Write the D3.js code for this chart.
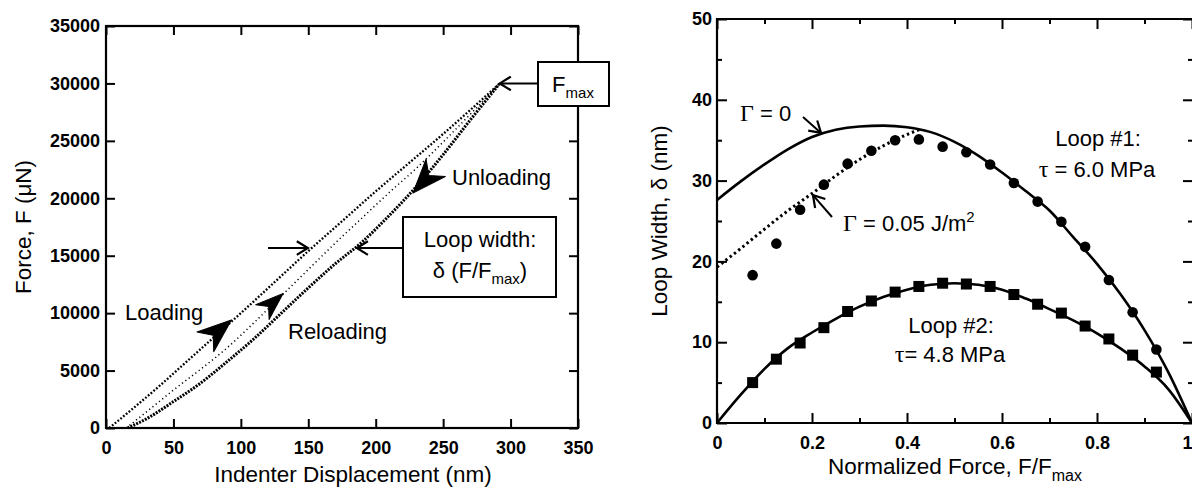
<!DOCTYPE html>
<html>
<head>
<meta charset="utf-8">
<script src="https://cdn.jsdelivr.net/npm/d3@7/dist/d3.min.js"></script>
<style>
body { margin: 0; background: #fff; }
svg { display: block; font-family: "Liberation Sans", Arial, Helvetica, sans-serif; }
.tick text { font-weight: bold; font-size: 18px; fill: #000; }
.tick line { stroke: #000; stroke-width: 2; }
.domain { display: none; }
.ann { font-size: 22px; fill: #000; }
.greek { font-family: "Liberation Serif", "Times New Roman", serif; }
</style>
</head>
<body>
<svg id="chart" width="1192" height="488"></svg>
<script>
// ---- left panel data: force vs indenter displacement ----
var loadDisp   = [2.4, 20, 40, 60, 80, 100, 125, 150, 175, 200, 225, 250, 275, 292];
var loadForce  = [0, 1700, 3700, 5800, 7900, 10000, 12700, 15400, 18000, 20600, 23100, 25600, 28200, 30000];

var reloadDisp  = [15, 30, 50, 70, 90, 110, 130, 150, 170, 190, 210, 230, 250, 270, 292];
var reloadForce = [0, 1400, 3300, 5100, 7000, 9200, 11500, 13800, 16100, 18300, 20500, 22600, 24900, 27300, 30000];

var unloadDisp  = [16, 30, 50, 70, 90, 110, 130, 150, 170, 190, 210, 230, 250, 270, 292];
var unloadForce = [0, 800, 2300, 3900, 5800, 7800, 10000, 12200, 14300, 16200, 18500, 21000, 23800, 26800, 30000];

var leftXTicks = [0, 50, 100, 150, 200, 250, 300, 350];
var leftYTicks = [0, 5000, 10000, 15000, 20000, 25000, 30000, 35000];

// ---- right panel data: loop width vs normalized force ----
var fitForce    = [0, 0.05, 0.1, 0.15, 0.2, 0.25, 0.3, 0.35, 0.4, 0.45, 0.5, 0.55, 0.6, 0.65, 0.7, 0.75, 0.8, 0.85, 0.9, 0.95, 1];
var loop1Fit    = [27.6, 29.9, 32.0, 33.9, 35.4, 36.3, 36.7, 36.8, 36.6, 36.0, 34.8, 33.1, 31.0, 28.7, 26.3, 23.0, 19.7, 15.9, 11.5, 6.3, 0];
var loop2Fit    = [0, 3.5, 6.7, 9.3, 11.2, 12.9, 14.4, 15.6, 16.5, 17.1, 17.3, 17.1, 16.5, 15.4, 14.1, 12.7, 11.1, 9.2, 7.0, 4.2, 0];

var gammaForce  = [0, 0.05, 0.1, 0.15, 0.2, 0.25, 0.3, 0.35, 0.4, 0.43];
var gammaFit    = [19.3, 21.6, 24.0, 26.3, 28.4, 30.6, 32.6, 34.3, 35.7, 36.4];

var measForce   = [0.075, 0.125, 0.175, 0.225, 0.275, 0.325, 0.375, 0.425, 0.475, 0.525, 0.575, 0.625, 0.675, 0.725, 0.775, 0.825, 0.875, 0.925];
var loop1Meas   = [18.3, 22.2, 26.4, 29.5, 32.1, 33.7, 35.0, 35.1, 34.2, 33.5, 32.0, 29.7, 27.4, 24.9, 21.8, 17.7, 13.7, 9.1];
var loop2Meas   = [5.0, 7.9, 9.9, 11.8, 13.8, 15.1, 16.2, 16.9, 17.3, 17.2, 16.9, 15.9, 14.7, 13.6, 12.0, 10.4, 8.4, 6.3];

var rightXMajor = [0, 0.2, 0.4, 0.6, 0.8, 1];
var rightXLabels = ["0", "0.2", "0.4", "0.6", "0.8", "1"];
var rightXMinor = [0.1, 0.3, 0.5, 0.7, 0.9];
var rightYMajor = [0, 10, 20, 30, 40, 50];
var rightYMinor = [5, 15, 25, 35, 45];

var svg = d3.select("#chart");

function zip(xs, ys) {
    return xs.map(function(x, i) { return [x, ys[i]]; });
}

// open "V" arrow: line from tail to tip
function openArrow(x1, y1, x2, y2) {
    var a = Math.atan2(y2 - y1, x2 - x1), L = 13, w = 0.55;
    svg.append("line").attr("x1", x1).attr("y1", y1).attr("x2", x2).attr("y2", y2)
        .attr("stroke", "#000").attr("stroke-width", 2);
    svg.append("path")
        .attr("d", "M" + (x2 - L * Math.cos(a - w)) + "," + (y2 - L * Math.sin(a - w)) +
            "L" + x2 + "," + y2 +
            "L" + (x2 - L * Math.cos(a + w)) + "," + (y2 - L * Math.sin(a + w)))
        .attr("fill", "none").attr("stroke", "#000").attr("stroke-width", 2.2);
}

// filled barbed arrow head, tip at (x,y), pointing at angle deg
function barb(x, y, deg, len, half) {
    svg.append("path")
        .attr("d", "M0,0L" + (-len) + "," + (-half) + "L" + (-len * 0.7) + ",0L" + (-len) + "," + half + "Z")
        .attr("transform", "translate(" + x + "," + y + ") rotate(" + deg + ")")
        .attr("fill", "#000").attr("stroke", "#000").attr("stroke-width", 1).attr("stroke-linejoin", "round");
}

// ================= LEFT PANEL =================
var xL = d3.scaleLinear().domain([0, 350]).range([106, 578]);
var yL = d3.scaleLinear().domain([0, 35000]).range([428, 26]);

svg.append("g").attr("transform", "translate(106,0)")
    .call(d3.axisLeft(yL).tickValues(leftYTicks).tickSize(-9).tickPadding(6).tickFormat(d3.format("d")));
svg.append("g").attr("transform", "translate(578,0)")
    .call(d3.axisRight(yL).tickValues(leftYTicks).tickSize(-9).tickFormat(""));
svg.append("g").attr("transform", "translate(0,428)")
    .call(d3.axisBottom(xL).tickValues(leftXTicks).tickSize(-9).tickPadding(13).tickFormat(d3.format("d")));
svg.append("g").attr("transform", "translate(0,26)")
    .call(d3.axisTop(xL).tickValues(leftXTicks).tickSize(-9).tickFormat(""));

svg.append("rect").attr("x", 106).attr("y", 26).attr("width", 472).attr("height", 402)
    .attr("fill", "none").attr("stroke", "#000").attr("stroke-width", 2.2);

var lineL = d3.line().x(function(d) { return xL(d[0]); }).y(function(d) { return yL(d[1]); })
    .curve(d3.curveMonotoneX);

// loading (upper)
svg.append("path").datum(zip(loadDisp, loadForce)).attr("d", lineL)
    .attr("fill", "none").attr("stroke", "#000").attr("stroke-width", 2.3).attr("stroke-dasharray", "1.8,1.8");
// reloading (middle, sparse dots)
svg.append("path").datum(zip(reloadDisp, reloadForce)).attr("d", lineL)
    .attr("fill", "none").attr("stroke", "#000").attr("stroke-width", 1.5).attr("stroke-dasharray", "1.2,3");
// unloading (lower, heavy dots)
svg.append("path").datum(zip(unloadDisp, unloadForce)).attr("d", lineL)
    .attr("fill", "none").attr("stroke", "#000").attr("stroke-width", 3).attr("stroke-dasharray", "2,1.2");

// axis titles
svg.append("text").attr("x", 353).attr("y", 482).attr("text-anchor", "middle")
    .style("font-size", "22.5px").text("Indenter Displacement (nm)");
svg.append("text").attr("transform", "translate(31,227) rotate(-90)").attr("text-anchor", "middle")
    .style("font-size", "22.5px").text("Force, F (\u03BCN)");

// annotations
svg.append("text").attr("class", "ann").attr("x", 125).attr("y", 320).text("Loading");
svg.append("text").attr("class", "ann").attr("x", 288).attr("y", 339).text("Reloading");
svg.append("text").attr("class", "ann").attr("x", 452).attr("y", 185).text("Unloading");

barb(xL(93), yL(9400), -40, 34, 13);
barb(xL(131.4), yL(11720), -42, 28, 10);
barb(xL(227.6), yL(20450), 132, 34, 13);

// F max box
svg.append("rect").attr("x", 538).attr("y", 62).attr("width", 71).attr("height", 44)
    .attr("fill", "#fff").attr("stroke", "#000").attr("stroke-width", 2);
var fm = svg.append("text").attr("class", "ann").attr("x", 573).attr("y", 92).attr("text-anchor", "middle");
fm.append("tspan").text("F");
fm.append("tspan").attr("dy", 6).style("font-size", "15px").text("max");
openArrow(538, yL(30000), xL(292), yL(30000));

// loop width box
svg.append("rect").attr("x", 403).attr("y", 217).attr("width", 153).attr("height", 80)
    .attr("fill", "#fff").attr("stroke", "#000").attr("stroke-width", 2);
svg.append("text").attr("class", "ann").attr("x", 480).attr("y", 247).attr("text-anchor", "middle").text("Loop width:");
var lw = svg.append("text").attr("class", "ann").attr("x", 480).attr("y", 278).attr("text-anchor", "middle");
lw.append("tspan").text("\u03B4 (F/F");
lw.append("tspan").attr("dy", 6).style("font-size", "15px").text("max");
lw.append("tspan").attr("dy", -6).text(")");
openArrow(403, yL(15670), xL(186), yL(15670));
openArrow(268, yL(15670), xL(149.7), yL(15670));

// ================= RIGHT PANEL =================
var xR = d3.scaleLinear().domain([0, 1]).range([717, 1192]);
var yR = d3.scaleLinear().domain([0, 50]).range([423, 19]);

svg.append("g").attr("transform", "translate(717,0)")
    .call(d3.axisLeft(yR).tickValues(rightYMajor).tickSize(-10).tickPadding(5));
svg.append("g").attr("transform", "translate(717,0)")
    .call(d3.axisLeft(yR).tickValues(rightYMinor).tickSize(-5).tickFormat(""));
svg.append("g").attr("transform", "translate(1193,0)")
    .call(d3.axisRight(yR).tickValues(rightYMajor).tickSize(-10).tickFormat(""));
svg.append("g").attr("transform", "translate(1193,0)")
    .call(d3.axisRight(yR).tickValues(rightYMinor).tickSize(-5).tickFormat(""));
var xAxisR = svg.append("g").attr("transform", "translate(0,423)")
    .call(d3.axisBottom(xR).tickValues(rightXMajor).tickSize(-10).tickPadding(13)
        .tickFormat(function(d, i) { return rightXLabels[i]; }));
// last label sits on the window edge: keep it inside
xAxisR.selectAll(".tick text").filter(function(d) { return d === 1; }).attr("text-anchor", "end");
svg.append("g").attr("transform", "translate(0,423)")
    .call(d3.axisBottom(xR).tickValues(rightXMinor).tickSize(-5).tickFormat(""));
svg.append("g").attr("transform", "translate(0,19)")
    .call(d3.axisTop(xR).tickValues(rightXMajor).tickSize(-10).tickFormat(""));
svg.append("g").attr("transform", "translate(0,19)")
    .call(d3.axisTop(xR).tickValues(rightXMinor).tickSize(-5).tickFormat(""));

svg.append("path").attr("d", "M1193,19H717V423H1193")
    .attr("fill", "none").attr("stroke", "#000").attr("stroke-width", 2.2);

var lineR = d3.line().x(function(d) { return xR(d[0]); }).y(function(d) { return yR(d[1]); })
    .curve(d3.curveMonotoneX);

svg.append("path").datum(zip(fitForce, loop1Fit)).attr("d", lineR)
    .attr("fill", "none").attr("stroke", "#000").attr("stroke-width", 2.6);
svg.append("path").datum(zip(fitForce, loop2Fit)).attr("d", lineR)
    .attr("fill", "none").attr("stroke", "#000").attr("stroke-width", 2.6);
svg.append("path").datum(zip(gammaForce, gammaFit)).attr("d", lineR)
    .attr("fill", "none").attr("stroke", "#000").attr("stroke-width", 3).attr("stroke-dasharray", "2.4,3");

svg.append("g").selectAll("circle").data(zip(measForce, loop1Meas)).enter().append("circle")
    .attr("cx", function(d) { return xR(d[0]); })
    .attr("cy", function(d) { return yR(d[1]); })
    .attr("r", 5.3).attr("fill", "#000");

svg.append("g").selectAll("rect").data(zip(measForce, loop2Meas)).enter().append("rect")
    .attr("x", function(d) { return xR(d[0]) - 5.5; })
    .attr("y", function(d) { return yR(d[1]) - 5.5; })
    .attr("width", 11).attr("height", 11).attr("fill", "#000");

// axis titles
var xt = svg.append("text").attr("x", 955).attr("y", 474).attr("text-anchor", "middle").style("font-size", "22.5px");
xt.append("tspan").text("Normalized Force, F/F");
xt.append("tspan").attr("dy", 7).style("font-size", "16px").text("max");
svg.append("text").attr("transform", "translate(667,221) rotate(-90)").attr("text-anchor", "middle")
    .style("font-size", "22.5px").text("Loop Width, \u03B4 (nm)");

// annotations
var g0 = svg.append("text").attr("class", "ann").attr("x", 740).attr("y", 121);
g0.append("tspan").attr("class", "greek").style("font-size", "24px").text("\u0393");
g0.append("tspan").text(" = 0");
openArrow(803, 117, xR(0.219), yR(35.9));

var g5 = svg.append("text").attr("class", "ann").attr("x", 843).attr("y", 231);
g5.append("tspan").attr("class", "greek").style("font-size", "24px").text("\u0393");
g5.append("tspan").text(" = 0.05 J/m");
g5.append("tspan").attr("dy", -9).style("font-size", "15px").text("2");
openArrow(832, 217, xR(0.202), yR(28.2));

svg.append("text").attr("class", "ann").attr("x", 1098).attr("y", 146).attr("text-anchor", "middle").text("Loop #1:");
var t1 = svg.append("text").attr("class", "ann").attr("x", 1097).attr("y", 177).attr("text-anchor", "middle");
t1.append("tspan").attr("class", "greek").style("font-size", "24px").text("\u03C4");
t1.append("tspan").text(" = 6.0 MPa");

svg.append("text").attr("class", "ann").attr("x", 951).attr("y", 333).attr("text-anchor", "middle").text("Loop #2:");
var t2 = svg.append("text").attr("class", "ann").attr("x", 950).attr("y", 362).attr("text-anchor", "middle");
t2.append("tspan").attr("class", "greek").style("font-size", "24px").text("\u03C4");
t2.append("tspan").text("= 4.8 MPa");
</script>
</body>
</html>
